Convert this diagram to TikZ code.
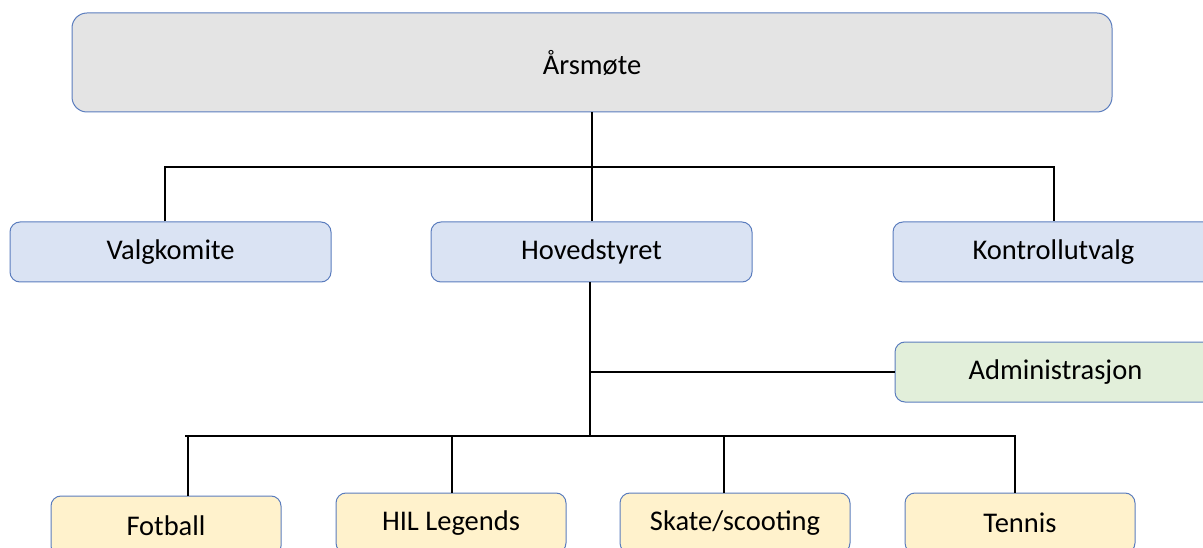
\documentclass[tikz,border=0pt]{standalone}
\usepackage{fontspec}
\setmainfont{Carlito}
\definecolor{bordc}{HTML}{5B7DBE}
\definecolor{grayf}{HTML}{E4E4E4}
\definecolor{bluef}{HTML}{DAE3F3}
\definecolor{greenf}{HTML}{E2EFDA}
\definecolor{yellowf}{HTML}{FFF2CC}
\begin{document}
\begin{tikzpicture}[x=1pt,y=-1pt,
  box/.style={draw=bordc,line width=1pt,rounded corners=10pt,inner sep=0pt,
    font=\fontsize{28.5}{34}\selectfont,text=black},
  link/.style={draw=black,line width=2pt}]
\useasboundingbox (0,0) rectangle (1203,548);
\begin{scope}
\clip (0,0) rectangle (1203,548);
\node[box,fill=grayf,rounded corners=15pt,minimum width=1040pt,minimum height=99pt] (ars) at (592,62.5) {Årsmøte};
\node[box,fill=bluef,minimum width=321pt,minimum height=60pt] (valg) at (170.5,252) {Valgkomite};
\node[box,fill=bluef,minimum width=321pt,minimum height=60pt] (hoved) at (591.5,252) {Hovedstyret};
\node[box,fill=bluef,minimum width=321pt,minimum height=60pt] (kontroll) at (1053.5,252) {Kontrollutvalg};
\node[box,fill=greenf,minimum width=321pt,minimum height=60pt] (admin) at (1055.5,372) {Administrasjon};
\node[box,fill=yellowf,minimum width=230pt,minimum height=60pt] (fotball) at (166,526) {Fotball};
\node[box,fill=yellowf,minimum width=230pt,minimum height=60pt] (hil) at (451,523) {HIL Legends};
\node[box,fill=yellowf,minimum width=230pt,minimum height=60pt] (skate) at (735,523) {Skate/scooting};
\node[box,fill=yellowf,minimum width=230pt,minimum height=60pt] (tennis) at (1020,523) {Tennis};
\end{scope}
% top bus
\coordinate (tb) at (592,167);
\coordinate (tbL) at (165,167);
\coordinate (tbR) at (1054,167);
\draw[link] (ars.south) -- (tb);
\draw[link] (valg.north -| tbL) -- (tbL) -- (tbR) -- (kontroll.north -| tbR);
\draw[link] (tb) -- (hoved.north -| tb);
% lower bus
\coordinate (hb) at (590,282);
\coordinate (ab) at (590,372);
\coordinate (bb) at (590,436);
\coordinate (bL) at (185,436);
\coordinate (bR) at (1016,436);
\coordinate (dF) at (188,436);
\coordinate (dH) at (452,436);
\coordinate (dS) at (724,436);
\coordinate (dT) at (1015,436);
\draw[link] (hb) -- (bb);
\draw[link] (ab) -- (admin.west);
\draw[link] (bL) -- (bR);
\draw[link] (dF) -- (fotball.north -| dF);
\draw[link] (dH) -- (hil.north -| dH);
\draw[link] (dS) -- (skate.north -| dS);
\draw[link] (dT) -- (tennis.north -| dT);
\end{tikzpicture}
\end{document}
